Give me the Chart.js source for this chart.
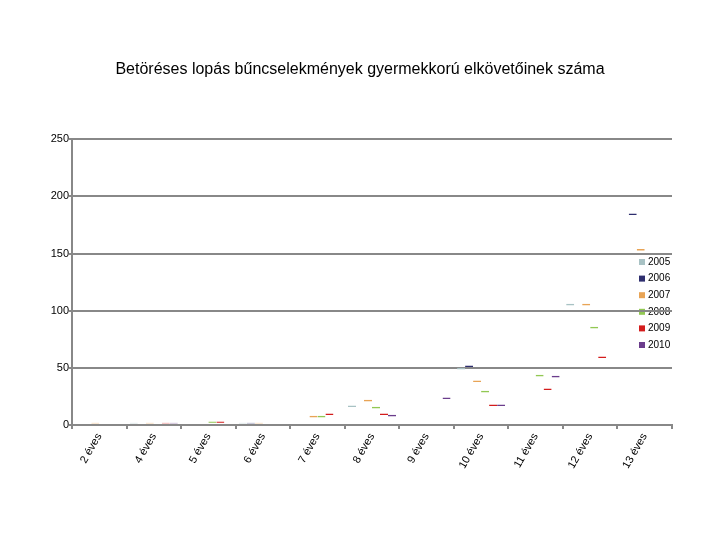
<!DOCTYPE html>
<html>
<head>
<meta charset="utf-8">
<script src="https://cdn.jsdelivr.net/npm/chart.js@4/dist/chart.umd.min.js"></script>
<style>
    body { margin: 0; background: #fff; }
    #wrap { width: 720px; height: 540px; }
</style>
</head>
<body>
<div id="wrap"><canvas id="chart" width="720" height="540"></canvas></div>
<script>
// adatok
const categories = ['2 éves', '4 éves', '5 éves', '6 éves', '7 éves', '8 éves', '9 éves', '10 éves', '11 éves', '12 éves', '13 éves'];
const years = ['2005', '2006', '2007', '2008', '2009', '2010'];
const s2005 = [0, 2, 0, 2, 0, 17, 0, 50, 0, 106, 0];
const s2006 = [0, 0, 0, 2, 0, 0, 0, 52, 0, 0, 185];
const s2007 = [2, 2, 0, 2, 8, 22, 0, 39, 0, 106, 154];
const s2008 = [0, 0, 3, 0, 8, 16, 0, 30, 44, 86, 0];
const s2009 = [0, 2, 3, 0, 10, 10, 0, 18, 32, 60, 0];
const s2010 = [0, 2, 0, 0, 0, 9, 24, 18, 43, 0, 0];
const yTicks = [0, 50, 100, 150, 200, 250];

const seriesValues = [s2005, s2006, s2007, s2008, s2009, s2010];
const colors = ['#a8c2c4', '#2e2e6e', '#e8a456', '#92c853', '#d41c1c', '#6b3d8c'];
const gridColor = '#888888';
const fontFamily = '"Liberation Sans", Arial, sans-serif';

// jelmagyarázat a rajzterületen belül, a rácsvonalak alatt
const innerLegend = {
    id: 'innerLegend',
    beforeDraw(chart) {
        const ctx = chart.ctx;
        ctx.save();
        ctx.font = '10px ' + fontFamily;
        ctx.textBaseline = 'middle';
        chart.data.datasets.forEach((ds, i) => {
            const y = 262 + i * 16.6;
            ctx.fillStyle = ds.borderColor;
            ctx.fillRect(639, y - 3, 6, 6);
            ctx.fillStyle = '#000';
            ctx.fillText(ds.label, 648, y);
        });
        ctx.restore();
    }
};

new Chart(document.getElementById('chart').getContext('2d'), {
    type: 'bar',
    data: {
        labels: categories,
        datasets: years.map((year, i) => ({
            label: year,
            data: seriesValues[i],
            backgroundColor: 'rgba(0,0,0,0)',
            borderColor: colors[i],
            borderWidth: { top: 1.5, right: 0, bottom: 0, left: 0 },
            borderSkipped: false,
            categoryPercentage: 0.88,
            barPercentage: 1
        }))
    },
    options: {
        responsive: false,
        animation: false,
        devicePixelRatio: 1,
        layout: { padding: 0 },
        plugins: {
            legend: { display: false },
            tooltip: { enabled: false },
            title: {
                display: true,
                text: 'Betöréses lopás bűncselekmények gyermekkorú elkövetőinek száma',
                color: '#000',
                font: { family: fontFamily, size: 16, weight: 'normal' },
                padding: { top: 60, bottom: 60 }
            }
        },
        scales: {
            x: {
                offset: true,
                grid: { display: true, drawOnChartArea: false, drawTicks: true, tickLength: 4, color: gridColor, lineWidth: 2, offset: true },
                border: { display: true, color: gridColor, width: 2 },
                ticks: {
                    color: '#000',
                    font: { family: fontFamily, size: 11 },
                    minRotation: 60,
                    maxRotation: 60,
                    padding: 2,
                    autoSkip: false
                },
                afterFit(scale) { scale.height = 115; }
            },
            y: {
                min: 0,
                max: 250,
                afterBuildTicks(scale) { scale.ticks = yTicks.map(v => ({ value: v })); },
                grid: { color: gridColor, lineWidth: 2, tickLength: 3 },
                border: { display: true, color: gridColor, width: 2 },
                ticks: {
                    color: '#000',
                    font: { family: fontFamily, size: 11 },
                    padding: 0
                },
                afterFit(scale) { scale.width = 72; }
            },
            // üres jobb oldali sáv, hogy a cím középre kerüljön
            yRight: {
                position: 'right',
                min: 0,
                max: 250,
                grid: { display: false },
                border: { display: false },
                ticks: { display: false },
                afterFit(scale) { scale.width = 48; }
            }
        }
    },
    plugins: [innerLegend]
});
</script>
</body>
</html>
